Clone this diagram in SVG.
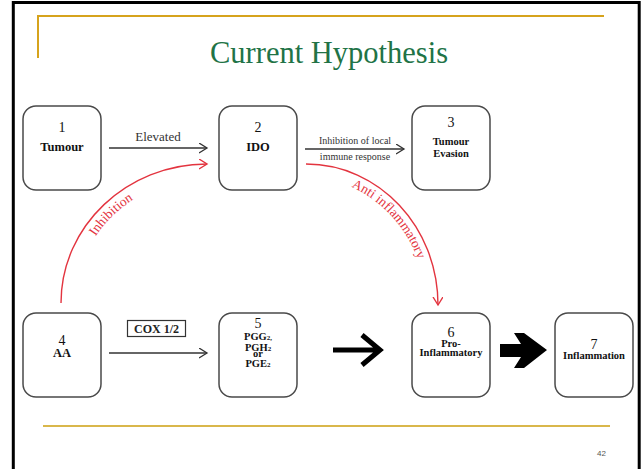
<svg xmlns="http://www.w3.org/2000/svg" width="642" height="469" viewBox="0 0 642 469">
<style>
.node{fill:#fff;stroke:#4a4a4a;stroke-width:1.5}
.num{font-family:"Liberation Serif",serif;font-size:14px;fill:#111;text-anchor:middle}
.lbl{font-family:"Liberation Serif",serif;font-weight:bold;font-size:12.5px;fill:#111;text-anchor:middle}
.sm{font-family:"Liberation Serif",serif;font-weight:bold;font-size:10.5px;fill:#111;text-anchor:middle}
.edge{fill:none;stroke:#333;stroke-width:1.3}
.red{fill:none;stroke:#e3343f;stroke-width:1.4}
.elbl{font-family:"Liberation Serif",serif;fill:#333;text-anchor:middle}
.rlbl{font-family:"Liberation Serif",serif;font-size:13.5px;fill:#e3343f;text-anchor:middle}
</style>
<defs>
<marker id="ah" markerUnits="userSpaceOnUse" markerWidth="12" markerHeight="12" refX="8" refY="5" orient="auto">
<path d="M0,0 L8,5 L0,10" fill="none" stroke="#333" stroke-width="1.3"/>
</marker>
<marker id="ahr" markerUnits="userSpaceOnUse" markerWidth="12" markerHeight="12" refX="8" refY="5" orient="auto">
<path d="M0,0 L8,5 L0,10" fill="none" stroke="#e3343f" stroke-width="1.4"/>
</marker>
<path id="pInh" d="M75,303 C75,234 135,178 208,178"/>
<path id="pAnti" d="M306,177 C371,177 426,235 426,305"/>
</defs>
<rect width="642" height="469" fill="#fff"/>
<rect x="13.3" y="2.5" width="625.9" height="480" fill="none" stroke="#000" stroke-width="3"/>
<path d="M37,16 H604 M38,16 V58" fill="none" stroke="#d6a31c" stroke-width="2"/>
<line x1="43" y1="426" x2="610" y2="426" stroke="#d9b74b" stroke-width="2"/>
<text x="329" y="63" font-family="Liberation Serif,serif" font-size="30.5" fill="#217346" text-anchor="middle">Current Hypothesis</text>
<text x="606" y="456" font-family="Liberation Sans,sans-serif" font-size="8" fill="#555" text-anchor="end">42</text>

<g id="node1">
<rect class="node" x="23" y="106" width="78" height="84" rx="13"/>
<text class="num" x="62" y="132">1</text>
<text class="lbl" x="62" y="151">Tumour</text>
</g>
<g id="node2">
<rect class="node" x="219" y="106" width="78" height="84" rx="13"/>
<text class="num" x="258" y="132">2</text>
<text class="lbl" x="258" y="151">IDO</text>
</g>
<g id="node3">
<rect class="node" x="412" y="106" width="78" height="84" rx="13"/>
<text class="num" x="451" y="127">3</text>
<text class="sm" x="451" y="145">Tumour</text>
<text class="sm" x="451" y="157">Evasion</text>
</g>
<g id="node4">
<rect class="node" x="23" y="313" width="78" height="84" rx="13"/>
<text class="num" x="62" y="345">4</text>
<text class="lbl" x="62" y="357">AA</text>
</g>
<g id="node5">
<rect class="node" x="219" y="313" width="78" height="84" rx="13"/>
<text class="num" x="258" y="328" font-size="13">5</text>
<text class="sm" x="258" y="340" font-size="11">PGG<tspan font-size="7">2,</tspan></text>
<text class="sm" x="258" y="350.5" font-size="11">PGH<tspan font-size="7">2</tspan></text>
<text class="sm" x="258" y="357" font-size="5">or</text>
<text class="sm" x="258" y="367" font-size="11">PGE<tspan font-size="7">2</tspan></text>
</g>
<g id="node6">
<rect class="node" x="412" y="313" width="78" height="84" rx="13"/>
<text class="num" x="451" y="337" font-size="13">6</text>
<text class="sm" x="451" y="346.5" font-size="9.5">Pro-</text>
<text class="sm" x="451" y="356">Inflammatory</text>
</g>
<g id="node7">
<rect class="node" x="555" y="313" width="78" height="84" rx="13"/>
<text class="num" x="594" y="349" font-size="13">7</text>
<text class="sm" x="594" y="358.5">Inflammation</text>
</g>

<g id="connectors">
<line class="edge" x1="109" y1="148" x2="207" y2="148" marker-end="url(#ah)"/>
<text class="elbl" x="158" y="141" font-size="13">Elevated</text>
<line class="edge" x1="305" y1="149" x2="404" y2="149" marker-end="url(#ah)"/>
<text class="elbl" x="355" y="144" font-size="10">Inhibition of local</text>
<text class="elbl" x="355" y="160" font-size="10">immune response</text>
<line class="edge" x1="109" y1="353" x2="207" y2="353" marker-end="url(#ah)"/>
<rect x="127.5" y="320.5" width="58" height="16" fill="#fff" stroke="#333" stroke-width="1.2"/>
<text x="156.5" y="332.5" font-family="Liberation Serif,serif" font-weight="bold" font-size="12" fill="#222" text-anchor="middle">COX 1/2</text>
<path class="red" d="M61,303 C61,226 127,164 207,164" marker-end="url(#ahr)"/>
<text class="rlbl"><textPath href="#pInh" startOffset="48%">Inhibition</textPath></text>
<path class="red" d="M306,164 C379,164 438,227 438,305" marker-end="url(#ahr)"/>
<text class="rlbl"><textPath href="#pAnti" startOffset="50%">Anti inflammatory</textPath></text>
<path d="M333,350 H378 M362,335 L380,350 L362,365" fill="none" stroke="#000" stroke-width="5"/>
<path d="M500,344 H521 L514,333 H524 L547,350 L524,368 H514 L521,357 H500 Z" fill="#000"/>
</g>
</svg>
